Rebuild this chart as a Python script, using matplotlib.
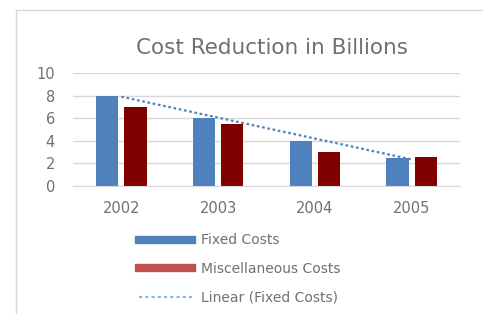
import numpy as np
import matplotlib
matplotlib.use("Agg")
import matplotlib.pyplot as plt
from matplotlib.patches import Rectangle
from matplotlib.lines import Line2D

plt.rcParams['font.family'] = ['DejaVu Sans']

years = ["2002", "2003", "2004", "2005"]
fixed_costs = [8, 6, 4, 2.5]
misc_costs = [7, 5.5, 3, 2.6]

blue = "#4F81BD"
dark_red = "#800000"
gray = "#707070"

fig = plt.figure(figsize=(4.83, 3.14), dpi=100)
W, H = 483, 314

# chart border
fig.patches.append(Rectangle((16 / W, -0.1), 1.2, 1 - 10 / H + 0.1,
                             transform=fig.transFigure, fill=False,
                             edgecolor="#D9D9D9", linewidth=1))

ax = fig.add_axes([73 / W, 1 - 186 / H, (460 - 73) / W, (186 - 73) / H])

x = np.arange(len(years))
bw = 0.23
ax.bar(x - 0.145, fixed_costs, bw, color=blue)
ax.bar(x + 0.145, misc_costs, bw, color=dark_red)

# linear trend line of fixed costs
k, b = np.polyfit(x, fixed_costs, 1)
ax.plot(x, k * x + b, linestyle=(0, (1.2, 1.2)), color=blue, linewidth=1.6)

ax.set_xlim(-0.5, 3.5)
ax.set_ylim(0, 10)
ax.set_yticks([0, 2, 4, 6, 8, 10])
ax.set_xticks(x)
ax.set_xticklabels(years)
ax.yaxis.grid(True, color="#D9D9D9", linewidth=1)
ax.set_axisbelow(True)
for s in ax.spines.values():
    s.set_visible(False)
ax.spines['bottom'].set_visible(True)
ax.spines['bottom'].set_color("#D9D9D9")
ax.tick_params(length=0, colors=gray, labelsize=10.5)
ax.tick_params(axis='y', pad=13)
ax.tick_params(axis='x', pad=11)

fig.text(272 / W, 1 - 48 / H, "Cost Reduction in Billions", ha="center",
         va="center", fontsize=15.5, color=gray)

handles = [
    Line2D([], [], color=blue, linewidth=6),
    Line2D([], [], color="#C0504D", linewidth=6),
    Line2D([], [], color="#8EB4E3", linewidth=1.5, linestyle=(0, (1.5, 1.5))),
]
labels = ["Fixed Costs", "Miscellaneous Costs", "Linear (Fixed Costs)"]
fig.legend(handles, labels, loc="upper left",
           bbox_to_anchor=(127 / W, 1 - 221 / H), frameon=False,
           fontsize=10, labelcolor=gray, handlelength=3.8,
           labelspacing=1.05, handletextpad=0.6)

fig.savefig("out.png", dpi=100)
